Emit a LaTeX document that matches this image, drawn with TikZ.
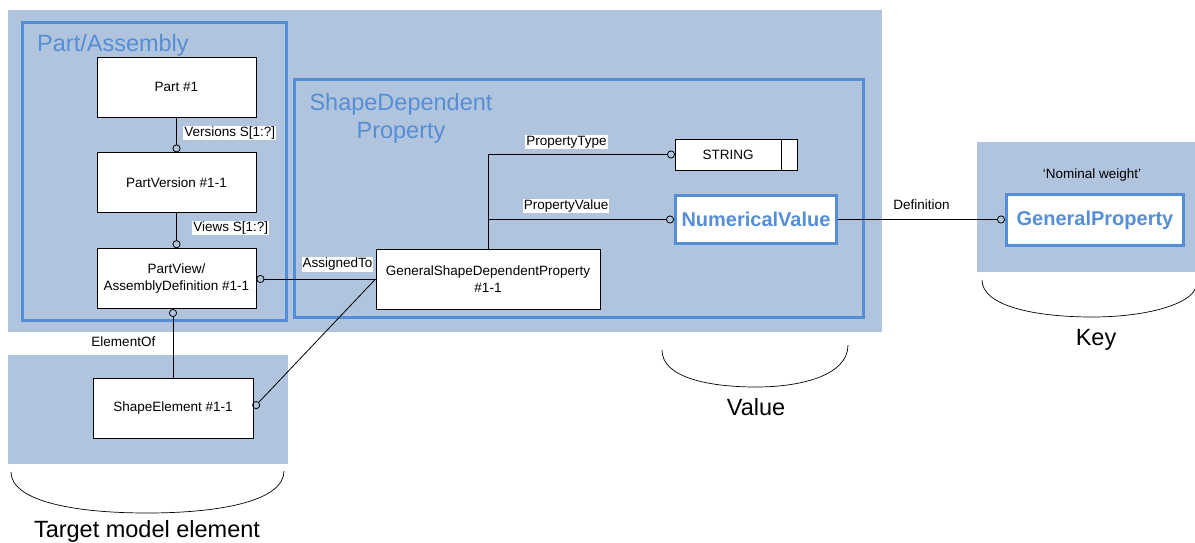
\documentclass[tikz,border=0pt]{standalone}
\usepackage{fontspec}
\setmainfont{Liberation Sans}
\usetikzlibrary{arrows.meta,positioning}
\definecolor{areaBlue}{HTML}{B0C4DE}
\definecolor{frameBlue}{HTML}{558ED5}

\begin{document}
\begin{tikzpicture}[x=1pt,y=-1pt,every node/.style={font=\fontsize{13.5}{16.5}\selectfont},node distance=35pt]
      \tikzstyle{ent}=[draw=black,fill=white,line width=0.8pt,minimum width=159pt,
                       minimum height=60pt,align=center,inner sep=2pt]
      \tikzstyle{keyent}=[draw=frameBlue,fill=white,line width=3pt,align=center,text=frameBlue,
                          font=\fontsize{20}{24}\selectfont\bfseries]
      \tikzstyle{frame}=[draw=frameBlue,line width=3pt]
      \tikzstyle{rel}=[draw=black,line width=0.8pt,-{Circle[open,length=8pt,line width=0.8pt]}]
      \tikzstyle{lbl}=[fill=white,inner sep=1pt]
      \tikzstyle{big}=[font=\fontsize{23.5}{28}\selectfont]
      \tikzstyle{brace}=[draw=black,line width=0.7pt]

      \useasboundingbox (0,0) rectangle (1195,543);

      % areas and group frames
      \fill[areaBlue] (8,10) rectangle (882,332);
      \fill[areaBlue] (8,355) rectangle (288,464);
      \fill[areaBlue] (977,142) rectangle (1195,272);
      \draw[frame] (22,23) rectangle (286,320);
      \draw[frame] (294,80) rectangle (863,317);
      \node[big,text=frameBlue,anchor=base west,inner sep=0] (patitle) at (37,52) {Part/Assembly};
      \node[big,text=frameBlue,anchor=north,align=center,inner sep=0] (sdtitle) at (401,93) {ShapeDependent\\Property};

      \node[ent] (part) at (176.5,87) {Part \#1};
      \node[ent,below=of part] (pver) {PartVersion \#1-1};
      \node[ent,below=of pver] (pview) {PartView/\\AssemblyDefinition \#1-1};
      \node[ent,minimum width=160pt] (shel) at (173,408) {ShapeElement \#1-1};
      \node[ent,minimum width=224pt] (gsdp) at (488,279) {GeneralShapeDependentProperty\\\#1-1};
      \node[ent,minimum width=106pt,minimum height=31pt,outer sep=0pt] (str) at (728,154.5) {STRING};
      \node[ent,minimum width=16pt,minimum height=31pt,outer sep=0pt,right=0pt of str] (strx) {};
      \node[keyent,minimum width=161pt,minimum height=48pt] (numv) at (756,219.5) {NumericalValue};
      \node[keyent,minimum width=177pt,minimum height=51pt] (genp) at (1095,220) {GeneralProperty};
      \node[anchor=base] (nomw) at (1092,178) {‘Nominal weight’};

      \draw[rel] (part)--(pver) node[lbl,pos=0.44,right=6.5pt]{Versions S[1:?]};
      \draw[rel] (pver)--(pview) node[lbl,pos=0.42,right=15.5pt]{Views S[1:?]};
      \draw[rel] (gsdp.west)--(gsdp.west -| pview.east) node[lbl,pos=0.32,above=7pt]{AssignedTo};
      \draw[rel] (gsdp.west)--(shel.east);
      \draw[rel] (shel.north)--(shel.north |- pview.south) node[pos=0.53,left=14pt]{ElementOf};
      \draw[rel] (gsdp.north) |- (str.west) node[lbl,pos=0.71,above=5pt]{PropertyType};
      \draw[rel] (gsdp.north) |- (numv.west) node[lbl,pos=0.71,above=6pt]{PropertyValue};
      \draw[rel] (numv.east)--(numv.east -| genp.west) node[pos=0.5,above=8pt,inner sep=1pt]{Definition};

      % braces
      \draw[brace] (11,472) .. controls (11,500) and (70,513) .. (147,513) .. controls (224,513) and (284,500) .. (284,471);
      \draw[brace] (662,350) .. controls (662,378) and (710,387) .. (756,387) .. controls (802,387) and (848,375) .. (848,345);
      \draw[brace] (982,280) .. controls (982,306) and (1035,317) .. (1092,317) .. controls (1150,317) and (1190,303) .. (1195,289);
      \node[big,anchor=base] (tgt) at (147,537.7) {Target model element};
      \node[big,anchor=base] (val) at (756,415) {Value};
      \node[big,anchor=base] (key) at (1096,345) {Key};
    \end{tikzpicture}
\end{document}
